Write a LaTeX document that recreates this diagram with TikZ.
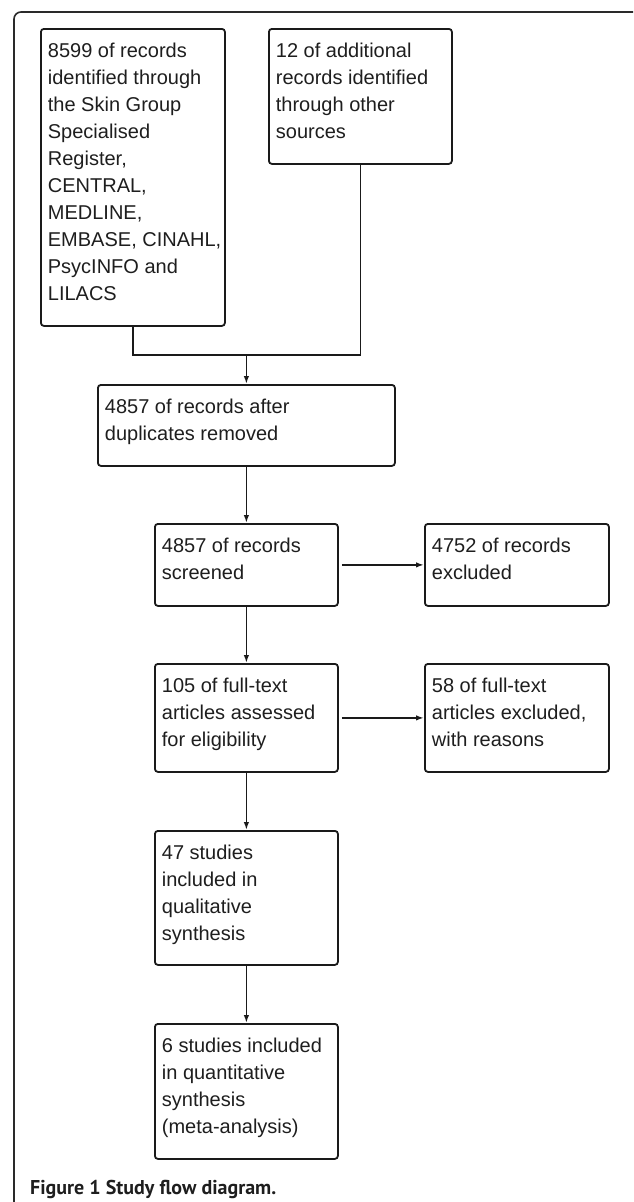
\documentclass[tikz,border=0pt]{standalone}
\usepackage{fontspec}
\setmainfont{Liberation Sans}
\newfontfamily\capfont{PT Sans}
\usetikzlibrary{arrows.meta}
\definecolor{linecol}{HTML}{1A1A1A}
\definecolor{textcol}{HTML}{1E1E1E}
\definecolor{framecol}{HTML}{2A2A2A}
\newcommand{\bxtext}[3]{\parbox[c][#2][t]{#1}{\leftskip=7pt\rightskip=0pt plus 1fil\parindent=0pt\parfillskip=0pt plus 1fil\rule{0pt}{29pt}#3}}
\begin{document}
\begin{tikzpicture}[x=1pt,y=1pt,
  box/.style={draw=linecol, line width=1.8pt, rounded corners=3pt, inner sep=0pt, anchor=north west, font=\fontsize{20}{27}\selectfont, text=textcol},
  arr/.style={draw=linecol, line width=1.7pt, -{Latex[length=8pt,width=5.5pt]}},
  ln/.style={draw=linecol, line width=1.7pt}]
\useasboundingbox (0,0) rectangle (633,-1202);
\begin{scope}
\clip (0,0) rectangle (633,-1202);
\draw[draw=framecol, line width=1.6pt, rounded corners=7pt] (14,-12) rectangle (720,-1215);
\end{scope}

\node[box] (b1) at (40,-28) {\bxtext{184pt}{297pt}{8599 of records\\identified through\\the Skin Group\\Specialised\\Register,\\CENTRAL,\\MEDLINE,\\EMBASE, CINAHL,\\PsycINFO and\\LILACS}};
\node[box] (b2) at (268,-28) {\bxtext{183pt}{135pt}{12 of additional\\records identified\\through other\\sources}};
\node[box] (b3) at (97,-384) {\bxtext{297pt}{81pt}{4857 of records after\\duplicates removed}};
\node[box] (b4) at (154,-523) {\bxtext{183pt}{82pt}{4857 of records\\screened}};
\node[box] (b5) at (424,-523) {\bxtext{184pt}{82pt}{4752 of records\\excluded}};
\node[box] (b6) at (154,-663) {\bxtext{183pt}{108pt}{105 of full-text\\articles assessed\\for eligibility}};
\node[box] (b7) at (424,-663) {\bxtext{184pt}{108pt}{58 of full-text\\articles excluded,\\with reasons}};
\node[box] (b8) at (154,-830) {\bxtext{183pt}{134pt}{47 studies\\included in\\qualitative\\synthesis}};
\node[box] (b9) at (154,-1023) {\bxtext{183pt}{135pt}{6 studies included\\in quantitative\\synthesis\\(meta-analysis)}};

\coordinate (j) at (b3.north |- 0,-355);
\draw[ln] (b1.south) |- (j) -| (b2.south);
\draw[arr] (j) -- (b3.north);
\draw[arr] (b3.south) -- (b4.north);
\draw[arr] (b4.south) -- (b6.north);
\draw[arr] (b6.south) -- (b8.north);
\draw[arr] (b8.south) -- (b9.north);
\draw[arr, shorten <=3pt] (b4.east) -- (b5.west);
\draw[arr, shorten <=3pt] (b6.east) -- (b7.west);

\node[anchor=base west, inner sep=0pt, text=textcol, font=\capfont\bfseries\fontsize{20}{24}\selectfont] (cap) at (30,-1194.5) {Figure 1 Study flow diagram.};
\end{tikzpicture}
\end{document}
